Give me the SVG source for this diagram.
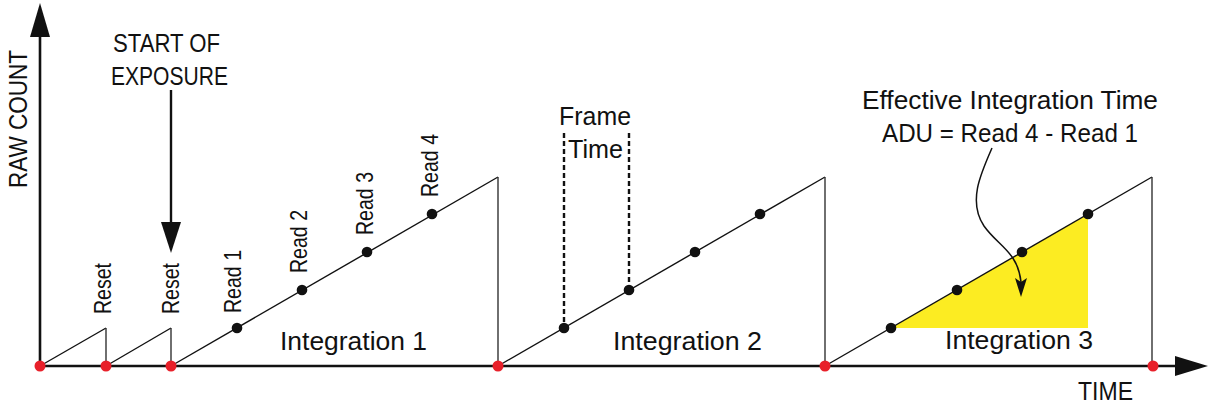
<svg xmlns="http://www.w3.org/2000/svg" width="1217" height="406" viewBox="0 0 1217 406">
<style>
.t{font-family:"Liberation Sans",Arial,sans-serif;fill:#111;}
.ramp{fill:none;stroke:#111;stroke-width:1.4;}
.drop{fill:none;stroke:#333;stroke-width:1.4;}
.axis{fill:none;stroke:#111;stroke-width:2.6;}
.dash{fill:none;stroke:#111;stroke-width:2.4;stroke-dasharray:5 3;}
.rd{fill:#111;}
.red{fill:#e8202a;}
</style>
<rect width="1217" height="406" fill="#fff"/>
<g id="highlight">
<polygon points="891,328 1088,214 1088,328" fill="#fcec22"/>
</g>
<g id="connectors">
<path class="axis" d="M40,366 V30"/>
<polygon points="40,3 30,37 50,37" fill="#111"/>
<path class="axis" d="M40,366 H1180"/>
<polygon points="1208,366 1175,356 1175,376" fill="#111"/>
<path class="ramp" d="M40,366 L106,328"/>
<path class="drop" d="M106,328 V366"/>
<path class="ramp" d="M106,366 L171,328"/>
<path class="drop" d="M171,328 V366"/>
<path class="ramp" d="M171,366 L498,177"/>
<path class="drop" d="M498,177 V366"/>
<path class="ramp" d="M498,366 L825,177"/>
<path class="drop" d="M825,177 V366"/>
<path class="ramp" d="M825,366 L1152,177"/>
<path class="drop" d="M1152,177 V366"/>
<path class="axis" d="M171,90 V228" style="stroke-width:2.4"/>
<polygon points="171,253 161,222 181,222" fill="#111"/>
<path class="dash" d="M564,133 V328"/>
<path class="dash" d="M629,133 V290"/>
<path fill="none" stroke="#111" stroke-width="1.5" d="M992,148 C980,175 968,202 984,226 C998,246 1018,252 1021,282"/>
<polygon points="1021,297 1015,278 1021,282 1027,278" fill="#111"/>
</g>
<g id="reads">
<circle class="rd" cx="237" cy="328" r="5.3"/>
<circle class="rd" cx="302" cy="290" r="5.3"/>
<circle class="rd" cx="367" cy="252" r="5.3"/>
<circle class="rd" cx="432" cy="214" r="5.3"/>
<circle class="rd" cx="564" cy="328" r="5.3"/>
<circle class="rd" cx="629" cy="290" r="5.3"/>
<circle class="rd" cx="695" cy="252" r="5.3"/>
<circle class="rd" cx="760" cy="214" r="5.3"/>
<circle class="rd" cx="891" cy="328" r="5.3"/>
<circle class="rd" cx="957" cy="290" r="5.3"/>
<circle class="rd" cx="1022" cy="252" r="5.3"/>
<circle class="rd" cx="1088" cy="214" r="5.3"/>
</g>
<g id="resets">
<circle class="red" cx="40" cy="366" r="5.5"/>
<circle class="red" cx="106" cy="366" r="5.5"/>
<circle class="red" cx="171" cy="366" r="5.5"/>
<circle class="red" cx="498" cy="366" r="5.5"/>
<circle class="red" cx="825" cy="366" r="5.5"/>
<circle class="red" cx="1153" cy="366" r="5.5"/>
</g>
<g id="axis-labels">
<text class="t" font-size="25" transform="translate(27,188) rotate(-90)" textLength="138" lengthAdjust="spacingAndGlyphs">RAW COUNT</text>
<text class="t" font-size="25" x="1078" y="400" textLength="55" lengthAdjust="spacingAndGlyphs">TIME</text>
</g>
<g id="start-label">
<text class="t" font-size="26" x="113" y="52" textLength="107" lengthAdjust="spacingAndGlyphs">START OF</text>
<text class="t" font-size="26" x="111" y="85" textLength="117" lengthAdjust="spacingAndGlyphs">EXPOSURE</text>
</g>
<g id="point-labels">
<text class="t" font-size="24.5" transform="translate(111,314) rotate(-90)" textLength="51" lengthAdjust="spacingAndGlyphs">Reset</text>
<text class="t" font-size="24.5" transform="translate(179,314) rotate(-90)" textLength="51" lengthAdjust="spacingAndGlyphs">Reset</text>
<text class="t" font-size="24.5" transform="translate(241,313) rotate(-90)" textLength="63" lengthAdjust="spacingAndGlyphs">Read 1</text>
<text class="t" font-size="24.5" transform="translate(307,273) rotate(-90)" textLength="63" lengthAdjust="spacingAndGlyphs">Read 2</text>
<text class="t" font-size="24.5" transform="translate(373,235) rotate(-90)" textLength="63" lengthAdjust="spacingAndGlyphs">Read 3</text>
<text class="t" font-size="24.5" transform="translate(438,197) rotate(-90)" textLength="63" lengthAdjust="spacingAndGlyphs">Read 4</text>
</g>
<g id="frame-label">
<text class="t" font-size="26" x="559" y="125" textLength="72" lengthAdjust="spacingAndGlyphs">Frame</text>
<text class="t" font-size="26" x="568" y="158" textLength="55" lengthAdjust="spacingAndGlyphs">Time</text>
</g>
<g id="integration-labels">
<text class="t" font-size="26" x="280" y="350" textLength="147" lengthAdjust="spacingAndGlyphs">Integration 1</text>
<text class="t" font-size="26" x="613" y="350" textLength="149" lengthAdjust="spacingAndGlyphs">Integration 2</text>
<text class="t" font-size="26" x="945" y="349" textLength="148" lengthAdjust="spacingAndGlyphs">Integration 3</text>
</g>
<g id="effective-label">
<text class="t" font-size="26" x="862" y="109" textLength="296" lengthAdjust="spacingAndGlyphs">Effective Integration Time</text>
<text class="t" font-size="26" x="882" y="142" textLength="256" lengthAdjust="spacingAndGlyphs">ADU = Read 4 - Read 1</text>
</g>
</svg>
